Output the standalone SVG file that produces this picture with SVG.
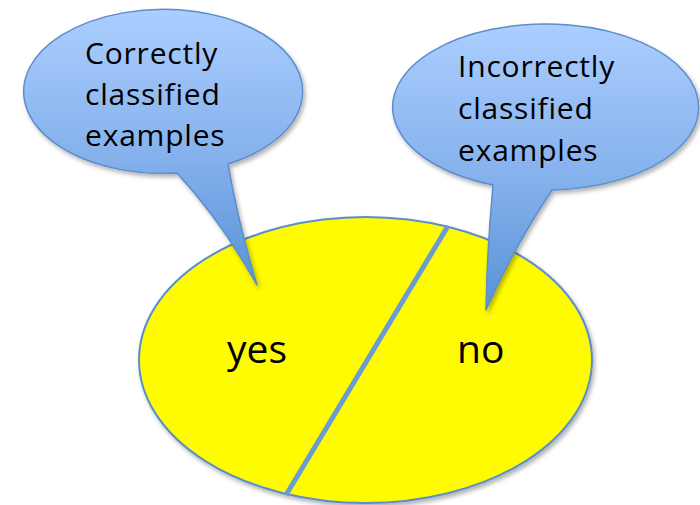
<svg xmlns="http://www.w3.org/2000/svg" width="700" height="505" viewBox="0 0 700 505">
  <style>
    .lbl { font-family: "Open Sans", "Noto Sans", "DejaVu Sans", sans-serif; fill: #000000; }
    .callout { font-size: 30px; letter-spacing: 0.8px; }
    .big { font-size: 39px; }
    .bubble { stroke: #5b8ecb; stroke-width: 1.5; stroke-linejoin: round; }
  </style>
  <defs>
    <filter id="shadow" x="-10%" y="-10%" width="130%" height="130%">
      <feDropShadow dx="2" dy="3" stdDeviation="2" flood-color="#000000" flood-opacity="0.3"/>
    </filter>
    <linearGradient id="gradL" gradientUnits="userSpaceOnUse" x1="0" y1="9" x2="0" y2="285">
      <stop offset="0" stop-color="#abcefe"/>
      <stop offset="0.55" stop-color="#84b0ec"/>
      <stop offset="1" stop-color="#5892d6"/>
    </linearGradient>
    <linearGradient id="gradR" gradientUnits="userSpaceOnUse" x1="0" y1="24" x2="0" y2="310">
      <stop offset="0" stop-color="#abcefe"/>
      <stop offset="0.55" stop-color="#84b0ec"/>
      <stop offset="1" stop-color="#5892d6"/>
    </linearGradient>
  </defs>

  <g id="set">
    <ellipse cx="365.5" cy="360" rx="226.5" ry="143" fill="#fffb00" stroke="#5b8ecb" stroke-width="2" filter="url(#shadow)"/>
  </g>

  <g id="divider">
    <line x1="448" y1="226" x2="286" y2="495" stroke="#6a9bd1" stroke-width="5"/>
  </g>

  <g id="label-yes">
    <text class="lbl big" x="227" y="363">yes</text>
  </g>
  <g id="label-no">
    <text class="lbl big" x="457" y="363">no</text>
  </g>

  <g id="callout-correct">
    <path class="bubble" fill="url(#gradL)" filter="url(#shadow)"
          d="M 228,164 A 139.5 82 0 1 0 177,173 Q 222,222 257,285 Q 238,222 228,164 Z"/>
    <text class="lbl callout" x="85" y="64">Correctly</text>
    <text class="lbl callout" x="85" y="105">classified</text>
    <text class="lbl callout" x="85" y="146">examples</text>
  </g>

  <g id="callout-incorrect">
    <path class="bubble" fill="url(#gradR)" filter="url(#shadow)"
          d="M 552,190 A 153 83 0 1 0 493,185 Q 487,250 486,310 Q 515,245 552,190 Z"/>
    <text class="lbl callout" x="458" y="77">Incorrectly</text>
    <text class="lbl callout" x="458" y="119">classified</text>
    <text class="lbl callout" x="458" y="161">examples</text>
  </g>
</svg>
